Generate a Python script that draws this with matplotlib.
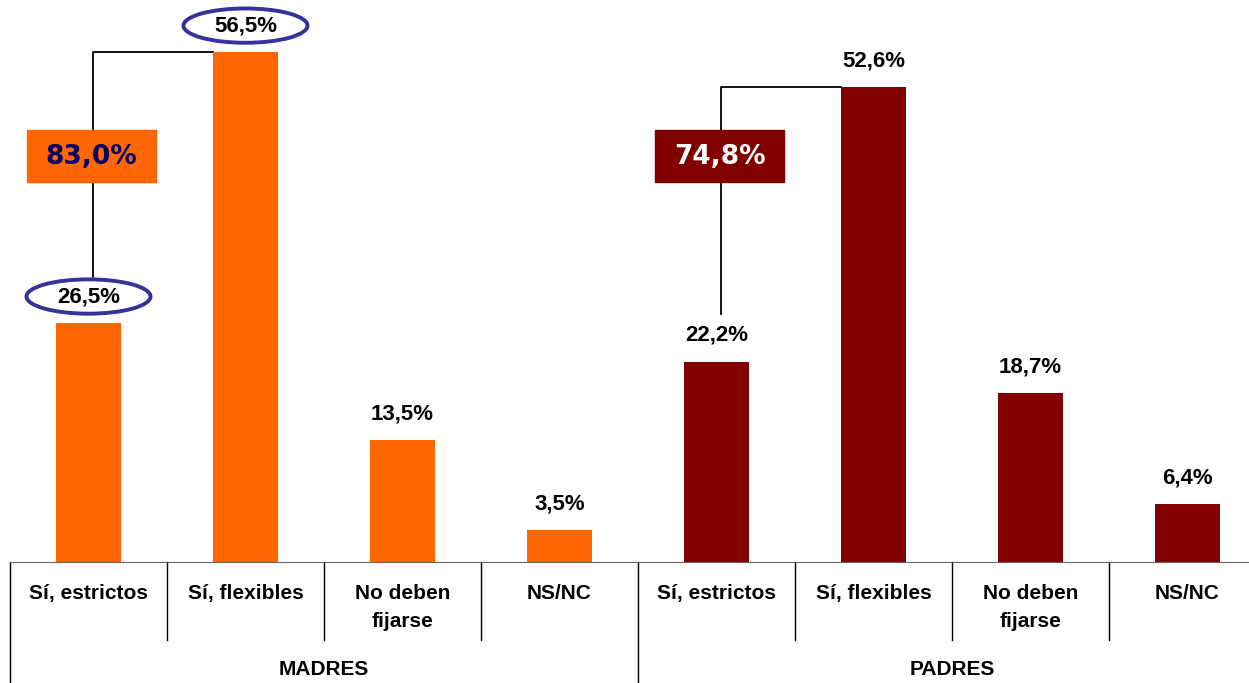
import matplotlib.pyplot as plt
from matplotlib.patches import Ellipse, Rectangle

categorias = ['Sí, estrictos', 'Sí, flexibles', 'No deben\nfijarse', 'NS/NC']
grupos = ['MADRES', 'PADRES']
madres = [26.5, 56.5, 13.5, 3.5]
padres = [22.2, 52.6, 18.7, 6.4]
total_madres = '83,0%'
total_padres = '74,8%'

naranja = '#FF6600'
granate = '#800000'
azul = '#333399'

W, H = 1249, 683
fig = plt.figure(figsize=(W / 100, H / 100), dpi=100)
# axes: baseline at y=562px, slot width ~157px starting at x=10
ax = fig.add_axes([10 / W, (H - 562) / H, 8 * 157 / W, 562 / H])
ax.set_xlim(-0.5, 7.5)
ax.set_ylim(0, 562 / 9.03)
for s in ['top', 'right', 'left']:
    ax.spines[s].set_visible(False)
ax.spines['bottom'].set_color('#666666')
ax.set_xticks([])
ax.set_yticks([])

valores = madres + padres
colores = [naranja] * 4 + [granate] * 4
x = list(range(8))
bw = 0.41
ax.bar(x, valores, width=bw, color=colores, zorder=2)

fmt = lambda v: f'{v:.1f}%'.replace('.', ',')
off = 2.9
for xi, v in zip(x, valores):
    ax.text(xi, v + off, fmt(v), ha='center', va='center', fontsize=16,
            fontweight='bold', family='Liberation Sans', zorder=4)

# ellipses around the two MADRES "Sí" labels
for xi in [0, 1]:
    ax.add_patch(Ellipse((xi, valores[xi] + off), 0.79, 3.8, fill=False,
                         edgecolor=azul, lw=2.8, zorder=3, clip_on=False))

# brackets
ax.plot([0.03, 0.03, 1 - bw / 2], [madres[0] + off + 1.9, madres[1], madres[1]],
        color='black', lw=1.3, zorder=1)
ax.plot([4.03, 4.03, 5 - bw / 2], [padres[0] + off + 2.4, padres[1], padres[1]],
        color='black', lw=1.3, zorder=1)

# total boxes
for xc, txt, fc, tc in [(0.02, total_madres, naranja, '#000066'),
                        (4.02, total_padres, granate, 'white')]:
    ax.add_patch(Rectangle((xc - 0.41, 45.0 - 2.88), 0.82, 5.76, color=fc, zorder=3))
    ax.text(xc, 44.9, txt, ha='center', va='center', fontsize=19,
            fontweight='bold', color=tc, family='DejaVu Sans', zorder=4)

# category labels and dividers below axis
tr = ax.get_xaxis_transform()
for i in range(8):
    ax.text(i, -0.040, categorias[i % 4], transform=tr, ha='center', va='top',
            fontsize=15, fontweight='bold', family='Liberation Sans',
            linespacing=1.6, clip_on=False)
for i in range(9):
    bottom = -0.22 if i % 4 == 0 else -0.139
    ax.plot([i - 0.5, i - 0.5], [0, bottom], transform=tr, color='black',
            lw=1, clip_on=False)
for g, nombre in enumerate(grupos):
    ax.text(g * 4 + 1.5, -0.192, nombre, transform=tr, ha='center', va='center',
            fontsize=15, fontweight='bold', family='Liberation Sans', clip_on=False)

fig.savefig('out.png', dpi=100)
